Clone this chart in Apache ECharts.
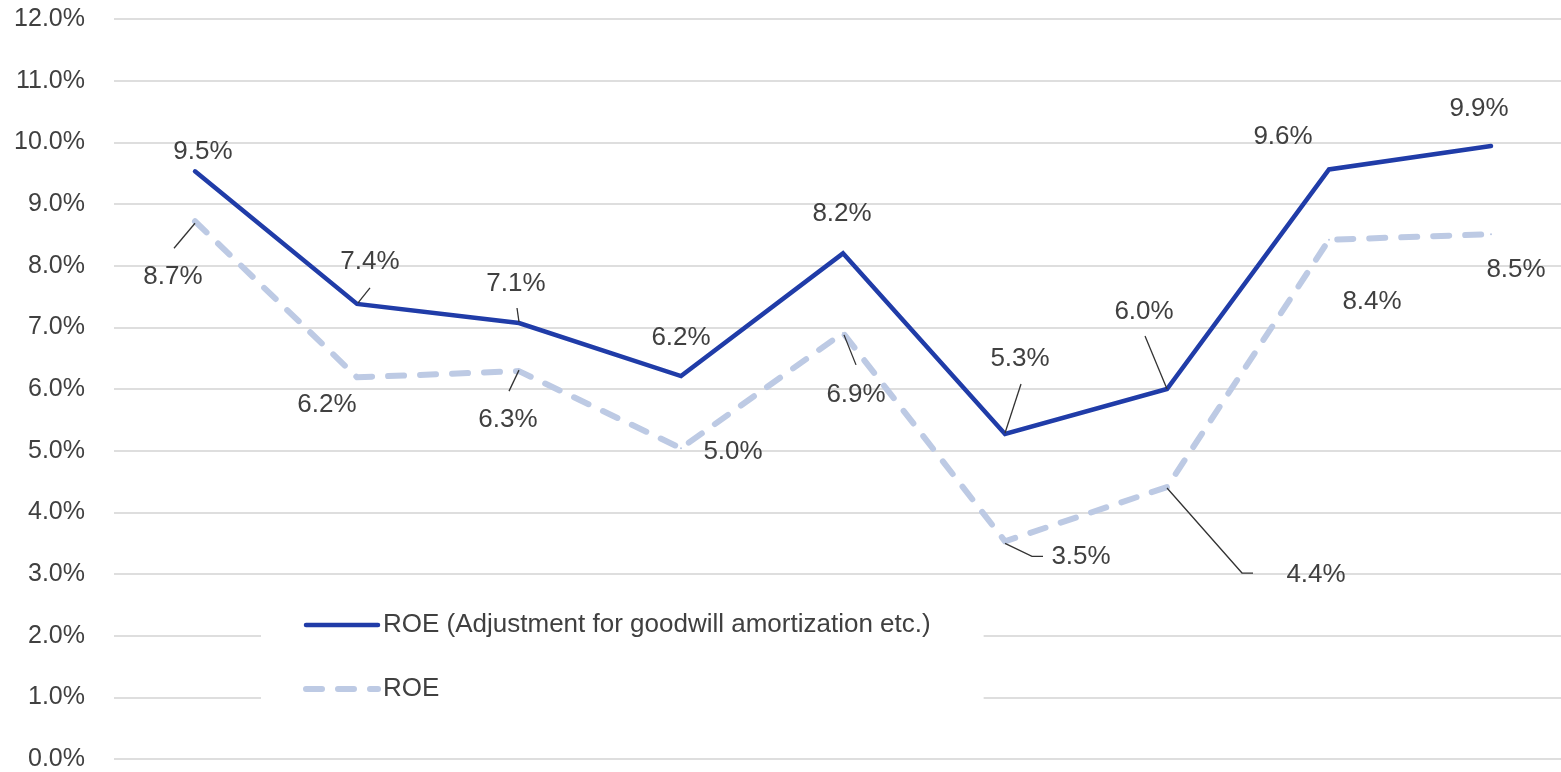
<!DOCTYPE html>
<html><head><meta charset="utf-8">
<script src="https://cdn.jsdelivr.net/npm/echarts@6/dist/echarts.min.js"></script>
<style>html,body{margin:0;padding:0;background:#fff}#c{width:1561px;height:772px}</style>
</head><body><div id="c"></div>
<script>
// ---- data ----
const categories = ['1', '2', '3', '4', '5', '6', '7', '8', '9'];
const roeAdjusted = [9.53, 7.38, 7.07, 6.21, 8.20, 5.27, 6.00, 9.56, 9.94];
const roe = [8.72, 6.19, 6.29, 5.04, 6.91, 3.53, 4.41, 8.42, 8.51];
const seriesNames = ['ROE (Adjustment for goodwill amortization etc.)', 'ROE'];
const yMin = 0, yMax = 12, yStep = 1;

// ---- label placement (px offsets of label centre from its point) ----
const adjLabelOffsets = [[8,-19],[13,-42],[-3,-39],[0,-38],[-1,-40],[15,-75],[-23,-77],[-46,-33],[-12,-37]];
const roeLabelOffsets = [[-22,56],[-30,28],[-11,49],[52,4],[13,62],[76,16],[149,88],[43,62],[25,36]];
// leader lines: series (0 adjusted, 1 roe), point index, px offsets from point
const leaders = [
  {s:0, i:1, pts:[[1,-1],[13,-16]]},
  {s:0, i:2, pts:[[0,-1],[-2,-15]]},
  {s:0, i:5, pts:[[0,-1],[16,-50]]},
  {s:0, i:6, pts:[[0,0],[-22,-53]]},
  {s:1, i:0, pts:[[0,2],[-21,27]]},
  {s:1, i:2, pts:[[0,-1],[-10,20]]},
  {s:1, i:4, pts:[[1,2],[13,32]]},
  {s:1, i:5, pts:[[0,2],[27,15],[38,15]]},
  {s:1, i:6, pts:[[0,1],[75,86],[86,86]]}
];

const textColor = '#404040';
const fontFamily = '"Liberation Sans", Arial, sans-serif';
const adjStyle = { color: '#203CA8', width: 4.5, cap: 'round', join: 'miter' };
const roeStyle = { color: '#BDCAE4', width: 6, type: [16, 16], cap: 'round', join: 'round' };

// x positions: category index (the chart's right edge crops the last slot)
function buildData(values, offsets) {
  return values.map((v, i) => ({ value: [i, v], label: { offset: offsets[i] } }));
}
const labelCfg = {
  show: true, position: 'inside', color: textColor, fontSize: 26, fontFamily: fontFamily,
  formatter: p => p.value[1].toFixed(1) + '%'
};

const chart = echarts.init(document.getElementById('c'), null, { renderer: 'canvas' });
chart.setOption({
  animation: false,
  backgroundColor: '#ffffff',
  grid: { left: 114, right: 0, top: 19, bottom: 13, containLabel: false },
  legend: {
    data: [
      { name: seriesNames[0], lineStyle: adjStyle },
      { name: seriesNames[1], lineStyle: roeStyle }
    ],
    orient: 'vertical',
    left: 261, top: 595,
    backgroundColor: '#ffffff',
    padding: [15, 53, 36, 42],
    itemWidth: 72, itemHeight: 14, itemGap: 34,
    itemStyle: { opacity: 0 },
    textStyle: { fontSize: 26, lineHeight: 30, color: textColor, fontFamily: fontFamily },
    selectedMode: false
  },
  xAxis: {
    type: 'value', min: -0.5, max: categories.length - 1 + 0.432,
    axisLine: { show: false }, axisTick: { show: false }, axisLabel: { show: false },
    splitLine: { show: false }
  },
  yAxis: {
    type: 'value', min: yMin, max: yMax, interval: yStep,
    axisLine: { show: false }, axisTick: { show: false },
    axisLabel: { formatter: v => v.toFixed(1) + '%', fontSize: 25, color: textColor, fontFamily: fontFamily, margin: 29 },
    splitLine: { lineStyle: { color: '#DEDEDE', width: 2 } }
  },
  series: [
    {
      name: seriesNames[0], type: 'line', data: buildData(roeAdjusted, adjLabelOffsets),
      symbol: 'circle', symbolSize: 2, showSymbol: true,
      itemStyle: { color: '#203CA8' },
      lineStyle: adjStyle,
      label: labelCfg, z: 3
    },
    {
      name: seriesNames[1], type: 'line', data: buildData(roe, roeLabelOffsets),
      symbol: 'circle', symbolSize: 2, showSymbol: true,
      itemStyle: { color: '#BDCAE4' },
      lineStyle: roeStyle,
      label: labelCfg, z: 2
    },
    {
      name: 'leaders', type: 'custom', silent: true, z: 4,
      data: leaders.map((l, k) => [l.i, (l.s === 0 ? roeAdjusted : roe)[l.i], k]),
      encode: { x: 0, y: 1 },
      renderItem: function (params, api) {
        const L = leaders[api.value(2)];
        const p = api.coord([api.value(0), api.value(1)]);
        return {
          type: 'polyline',
          shape: { points: L.pts.map(d => [p[0] + d[0], p[1] + d[1]]) },
          style: { stroke: '#333333', lineWidth: 1.3, fill: null }
        };
      }
    }
  ]
});
</script>
</body></html>
